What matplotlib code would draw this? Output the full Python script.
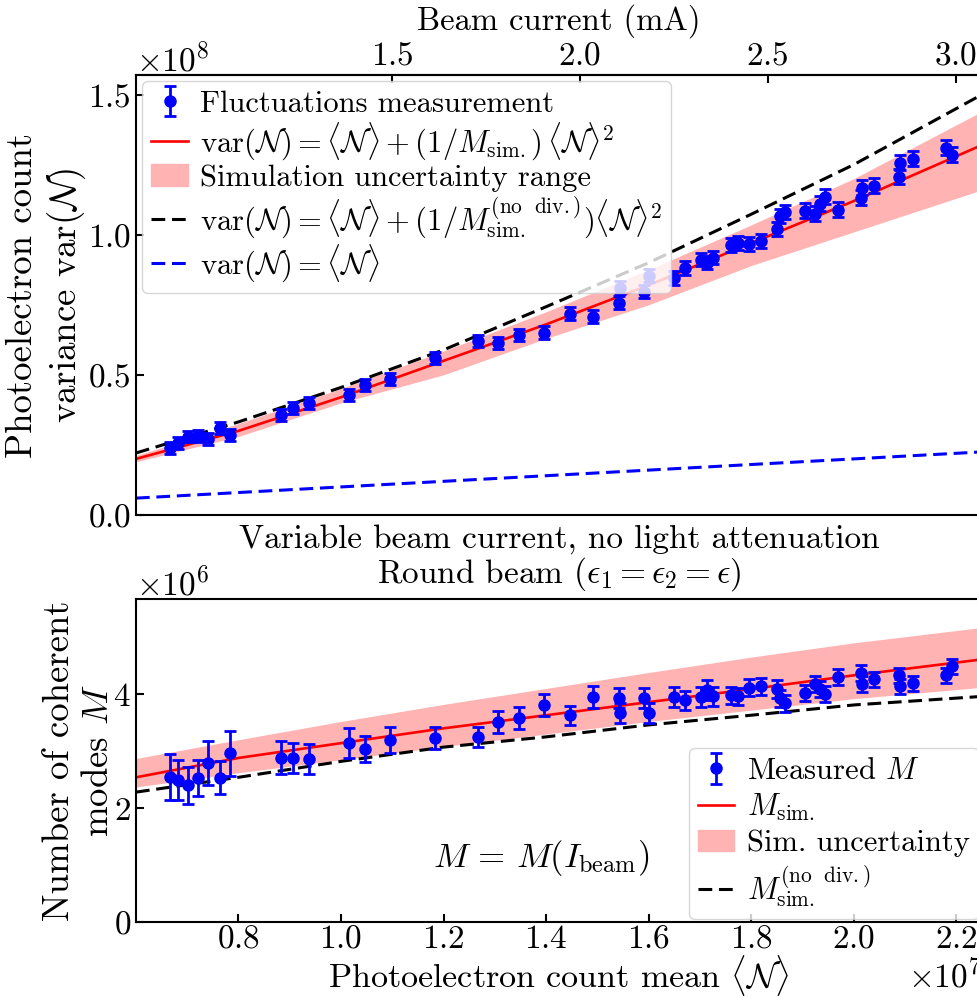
import numpy as np
import matplotlib
matplotlib.use("Agg")
from matplotlib import pyplot as plt
from matplotlib.patches import Patch

plt.rcParams['font.family'] = 'serif'
plt.rcParams['font.serif'] = ['cmr10', 'DejaVu Serif']
plt.rcParams['mathtext.fontset'] = 'cm'
plt.rcParams['axes.formatter.use_mathtext'] = True
plt.rcParams['font.size'] = 24

# measured points (mean in 1e7, variance in 1e8, modes in 1e6)
n_mean = [0.667, 0.683, 0.702, 0.722, 0.741, 0.763, 0.784, 0.883, 0.907, 0.937,
          1.015, 1.046, 1.096, 1.184, 1.268, 1.307, 1.348, 1.395, 1.446, 1.491,
          1.543, 1.545, 1.590, 1.600, 1.649, 1.670, 1.702, 1.713, 1.725, 1.760,
          1.774, 1.795, 1.820, 1.850, 1.857, 1.865, 1.904, 1.924, 1.934, 1.943,
          1.969, 2.014, 2.016, 2.039, 2.088, 2.090, 2.115, 2.180, 2.191]
var_meas = [0.239, 0.257, 0.279, 0.282, 0.271, 0.311, 0.286, 0.357, 0.382, 0.400,
            0.429, 0.464, 0.486, 0.560, 0.621, 0.614, 0.643, 0.650, 0.718, 0.707,
            0.757, 0.811, 0.796, 0.854, 0.846, 0.882, 0.911, 0.900, 0.918, 0.964,
            0.971, 0.968, 0.979, 1.021, 1.068, 1.082, 1.086, 1.075, 1.111, 1.136,
            1.089, 1.132, 1.168, 1.175, 1.207, 1.257, 1.271, 1.311, 1.286]
var_err = [0.020, 0.020, 0.020, 0.020, 0.020, 0.021, 0.021, 0.021, 0.021, 0.021,
           0.021, 0.021, 0.022, 0.022, 0.022, 0.022, 0.022, 0.023, 0.023, 0.023,
           0.023, 0.023, 0.023, 0.024, 0.024, 0.024, 0.024, 0.024, 0.024, 0.025,
           0.025, 0.025, 0.025, 0.025, 0.025, 0.025, 0.026, 0.026, 0.026, 0.026,
           0.026, 0.026, 0.026, 0.027, 0.027, 0.027, 0.027, 0.027, 0.027]
m_meas = [2.55, 2.49, 2.40, 2.53, 2.79, 2.53, 2.96, 2.88, 2.88, 2.86,
          3.14, 3.04, 3.19, 3.23, 3.25, 3.51, 3.58, 3.81, 3.63, 3.95,
          3.93, 3.67, 3.93, 3.67, 3.95, 3.89, 3.95, 4.07, 3.96, 3.98,
          3.96, 4.11, 4.14, 4.09, 3.93, 3.84, 4.02, 4.18, 4.09, 4.00,
          4.30, 4.37, 4.18, 4.26, 4.33, 4.14, 4.19, 4.33, 4.49]
m_err = [0.40, 0.35, 0.32, 0.32, 0.38, 0.29, 0.39, 0.29, 0.27, 0.26,
         0.26, 0.23, 0.23, 0.20, 0.18, 0.20, 0.20, 0.20, 0.17, 0.20,
         0.18, 0.18, 0.18, 0.17, 0.17, 0.17, 0.17, 0.17, 0.16, 0.15,
         0.15, 0.15, 0.15, 0.15, 0.15, 0.15, 0.14, 0.14, 0.14, 0.14,
         0.14, 0.14, 0.14, 0.13, 0.13, 0.13, 0.13, 0.13, 0.13]

# simulation curves read at these means (1e7)
n_curve = [0.60, 0.80, 1.00, 1.20, 1.40, 1.60, 1.80, 2.00, 2.25]
var_sim = [0.20, 0.30, 0.42, 0.55, 0.68, 0.82, 0.97, 1.12, 1.32]
var_sim_lo = [0.19, 0.28, 0.40, 0.50, 0.63, 0.75, 0.89, 1.01, 1.16]
var_sim_hi = [0.212, 0.326, 0.451, 0.585, 0.725, 0.875, 1.035, 1.20, 1.44]
var_nodiv = [0.221, 0.332, 0.455, 0.589, 0.743, 0.900, 1.073, 1.25, 1.50]
var_poisson = [0.060, 0.080, 0.100, 0.120, 0.140, 0.160, 0.180, 0.200, 0.225]
m_sim = [2.54, 2.88, 3.14, 3.40, 3.63, 3.86, 4.09, 4.33, 4.61]
m_sim_lo = [2.37, 2.62, 2.85, 3.08, 3.30, 3.52, 3.72, 3.92, 4.12]
m_sim_hi = [2.87, 3.20, 3.52, 3.82, 4.10, 4.38, 4.65, 4.90, 5.17]
m_nodiv = [2.28, 2.54, 2.82, 3.07, 3.25, 3.46, 3.63, 3.81, 3.96]

ma_per_count = 7.33e6  # mean counts per mA of beam current

n = np.array(n_mean) * 1e7
nc = np.array(n_curve) * 1e7

fig = plt.figure(figsize=(9.78, 9.97), dpi=100)
ax1 = fig.add_axes([0.139, 0.4835, 0.865, 0.4413])
ax2 = fig.add_axes([0.139, 0.0752, 0.865, 0.324])

band_col = '#ffb3b3'
dash = (0, (4.5, 2.2))

# top panel: variance
ax1.fill_between(nc, np.array(var_sim_lo) * 1e8, np.array(var_sim_hi) * 1e8,
                 color=band_col, lw=0)
l_red, = ax1.plot(nc, np.array(var_sim) * 1e8, color='red', lw=1.9)
l_blk, = ax1.plot(nc, np.array(var_nodiv) * 1e8, color='black', lw=2.2, ls=dash)
l_blu, = ax1.plot(nc, np.array(var_poisson) * 1e8, color='blue', lw=2.2, ls=dash)
eb1 = ax1.errorbar(n, np.array(var_meas) * 1e8, yerr=np.array(var_err) * 1e8,
                   fmt='o', color='blue', ms=8, capsize=4, elinewidth=2, capthick=2)
ax1.set_xlim(0.6e7, 2.25e7)
ax1.set_ylim(0, 1.57e8)
ax1.set_yticks([0, 0.5e8, 1.0e8, 1.5e8])
ax1.set_xticks([])
ax1.tick_params(direction='in', length=6, width=1.5)
ax1.set_ylabel('Photoelectron count\nvariance var($\\mathcal{N}$)', fontsize=26.5,
               labelpad=0)

sec = ax1.secondary_xaxis('top', functions=(lambda x: x / ma_per_count,
                                            lambda x: x * ma_per_count))
sec.set_xticks([1.5, 2.0, 2.5, 3.0])
sec.tick_params(direction='in', length=6, width=1.5)
sec.set_xlabel('Beam current (mA)', fontsize=23.5, labelpad=8)

leg_kw = dict(fontsize=22, handlelength=1.2, handletextpad=0.4,
              framealpha=0.8, borderpad=0.3)
ax1.legend(
    [eb1, l_red, Patch(color=band_col), l_blk, l_blu],
    ['Fluctuations measurement',
     r'$\mathrm{var}(\mathcal{N}) = \langle\mathcal{N}\rangle + (1/M_\mathrm{sim.})\,\langle\mathcal{N}\rangle^2$',
     'Simulation uncertainty range',
     r'$\mathrm{var}(\mathcal{N}) = \langle\mathcal{N}\rangle + (1/M_\mathrm{sim.}^{(\mathrm{no\ \ div.})})\langle\mathcal{N}\rangle^2$',
     r'$\mathrm{var}(\mathcal{N}) = \langle\mathcal{N}\rangle$'],
    loc='upper left', borderaxespad=0.2, labelspacing=0.08, **leg_kw)

# bottom panel: coherent modes
ax2.fill_between(nc, np.array(m_sim_lo) * 1e6, np.array(m_sim_hi) * 1e6,
                 color=band_col, lw=0)
m_red, = ax2.plot(nc, np.array(m_sim) * 1e6, color='red', lw=1.9)
m_blk, = ax2.plot(nc, np.array(m_nodiv) * 1e6, color='black', lw=2.2, ls=dash)
eb2 = ax2.errorbar(n, np.array(m_meas) * 1e6, yerr=np.array(m_err) * 1e6,
                   fmt='o', color='blue', ms=8, capsize=4, elinewidth=2, capthick=2)
ax2.set_xlim(0.6e7, 2.25e7)
ax2.set_ylim(0, 5.67e6)
ax2.set_yticks([0, 2e6, 4e6])
ax2.set_xticks([0.8e7, 1.0e7, 1.2e7, 1.4e7, 1.6e7, 1.8e7, 2.0e7, 2.2e7])
ax2.tick_params(direction='in', length=6, width=1.5)
ax2.tick_params(axis='x', pad=2)
ax2.set_xlabel('Photoelectron count mean $\\langle\\mathcal{N}\\rangle$', fontsize=24.5,
               labelpad=-0.5)
ax2.set_ylabel('Number of coherent\nmodes $M$', fontsize=26.5, labelpad=-1)
ax2.set_title('Variable beam current, no light attenuation\n'
              'Round beam ($\\epsilon_1 = \\epsilon_2 = \\epsilon$)', fontsize=24,
              pad=12, linespacing=1.05)
ax2.text(1.39e7, 1.12e6, r'$M \,=\, M(I_\mathrm{beam})$', ha='center', va='center',
         fontsize=25)

ax2.legend(
    [eb2, m_red, Patch(color=band_col), m_blk],
    ['Measured $M$', r'$M_\mathrm{sim.}$', 'Sim. uncertainty',
     r'$M_\mathrm{sim.}^{(\mathrm{no\ \ div.})}$'],
    loc='lower right', borderaxespad=0.1, labelspacing=0.22, **leg_kw)

for ax in (ax1, ax2):
    for s in ax.spines.values():
        s.set_linewidth(1.5)
sec.spines['top'].set_linewidth(1.5)

fig.savefig('out.png', dpi=100)
